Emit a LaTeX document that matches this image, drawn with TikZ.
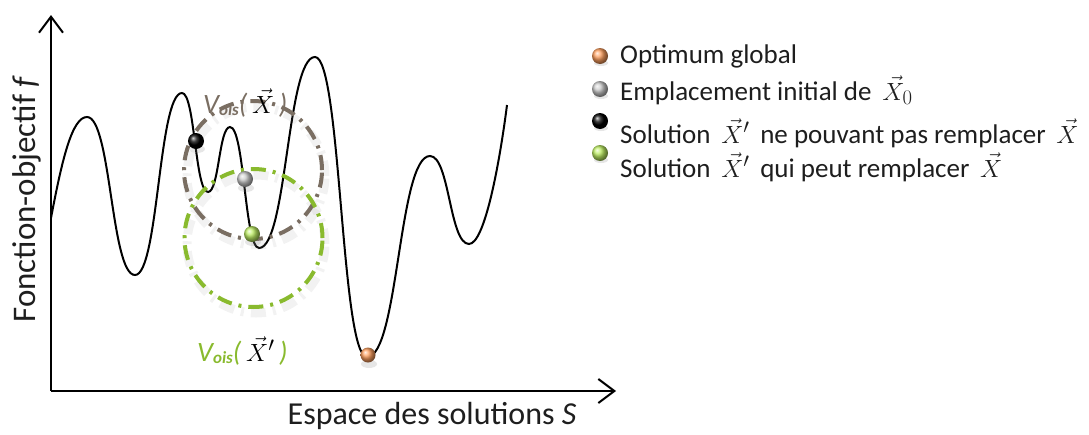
\documentclass[tikz,border=0pt]{standalone}
\usepackage{fontspec}
\setmainfont{Carlito}
\usetikzlibrary{arrows.meta}
\definecolor{taupe}{RGB}{122,110,98}
\definecolor{vgreen}{RGB}{137,186,46}
\definecolor{borange}{RGB}{255,160,95}
\definecolor{bgreen}{RGB}{190,238,100}
\definecolor{txt}{RGB}{30,30,30}
\tikzset{
  axis/.style={line width=2pt,-{Straight Barb[length=16pt,width=24pt,line width=2pt]}},
  fcurve/.style={line width=2pt,black},
  ring/.style={line width=4pt,dash pattern=on 15pt off 7pt on 3pt off 7pt},
  ringshadow/.style={line width=9pt,gray,opacity=0.10,dash pattern=on 15pt off 7pt on 3pt off 7pt},
  bead/.style={circle,inner sep=0pt,minimum size=16pt},
  bshadow/.style={fill=gray,opacity=0.2},
  legend/.style={anchor=base west,text=txt,font=\fontsize{27}{31}\selectfont,inner sep=0pt},
  axlabel/.style={anchor=base,text=txt,font=\fontsize{32}{36}\selectfont,inner sep=0pt},
  vlabel/.style={anchor=base west,inner sep=0pt,font=\fontsize{28}{30}\selectfont\itshape}
}
\newcommand{\oisx}{\raisebox{-2pt}{\fontsize{17}{17}\selectfont\bfseries\itshape ois}}
\newcommand{\bigmath}[1]{{\fontsize{31}{31}\selectfont$#1$}}
\begin{document}
\begin{tikzpicture}[x=1pt,y=-1pt]
\useasboundingbox (0,0) rectangle (1089,434);
% axes
\coordinate (O) at (51,391);
\coordinate (Ytop) at (51,15);
\coordinate (Xend) at (616,391);
\draw[axis] (O) -- (Ytop);
\draw[axis] (O) -- (Xend);
\node[axlabel] (xl) at (432,424) {Espace des solutions \textit{S}};
\node[axlabel,rotate=90,font=\fontsize{33}{36}\selectfont] (yl) at (35,199) {Fonction-objectif \textit{f}};
% objective function
\draw[fcurve] (51,218) .. controls (62,160) and (72,117) .. (87,117)
  .. controls (111,117) and (111,275) .. (135,275)
  .. controls (158.5,275) and (158.5,93) .. (182,93)
  .. controls (195,93) and (195,192) .. (208,192)
  .. controls (219,192) and (219,127) .. (230,127)
  .. controls (244.5,127) and (244.5,248) .. (259,248)
  .. controls (287,248) and (287,57) .. (315,57)
  .. controls (341,57) and (341,357) .. (367,357)
  .. controls (398.5,357) and (398.5,156) .. (430,156)
  .. controls (449.5,156) and (449.5,244) .. (469,244)
  .. controls (485,244) and (500,160) .. (507,105);
% neighbourhoods
\draw[ringshadow] (256,176) circle[radius=69pt];
\draw[ringshadow] (256,244) circle[radius=69pt];
\draw[ring,taupe] (253,170) circle[radius=69pt];
\draw[ring,vgreen] (253.5,238) circle[radius=69pt];
% labels of neighbourhoods
\node[vlabel] (vx) at (203,113) {\textcolor{taupe}{V\oisx(}\,\bigmath{\vec{X}}\,\textcolor{taupe}{)}};
\node[vlabel] (vxp) at (197,361) {\textcolor{vgreen}{V\oisx(}\,\bigmath{\vec{X}'}\,\textcolor{vgreen}{)}};
% beads on the curve
\fill[bshadow] (197,149) ellipse[x radius=8pt,y radius=4pt];
\fill[bshadow] (246,188) ellipse[x radius=8pt,y radius=4pt];
\fill[bshadow] (253,242) ellipse[x radius=8pt,y radius=4pt];
\fill[bshadow] (369,364) ellipse[x radius=8pt,y radius=4pt];
\node[bead,ball color=black] (bk) at (196,141) {};
\node[bead,ball color=gray!40] (gr) at (245,179) {};
\node[bead,ball color=bgreen] (gn) at (252,234) {};
\node[bead,ball color=borange,minimum size=15pt] (opt) at (368,355) {};
% legend
\foreach \yy in {56,89,121,153}{\fill[bshadow] (601,\yy+7) ellipse[x radius=7pt,y radius=3pt];}
\node[bead,ball color=borange] (l1) at (600,56) {};
\node[bead,ball color=gray!40] (l2) at (600,89) {};
\node[bead,ball color=black] (l3) at (600,121) {};
\node[bead,ball color=bgreen] (l4) at (600,153) {};
\node[legend] (t1) at (620,63) {Optimum global};
\node[legend] (t2) at (620,100) {Emplacement initial de \,\bigmath{\vec{X}_0}};
\node[legend] (t3) at (620,143) {Solution \,\bigmath{\vec{X}'}\, ne pouvant pas remplacer \,\bigmath{\vec{X}}};
\node[legend] (t4) at (620,177) {Solution \,\bigmath{\vec{X}'}\, qui peut remplacer \,\bigmath{\vec{X}}};
\end{tikzpicture}
\end{document}
